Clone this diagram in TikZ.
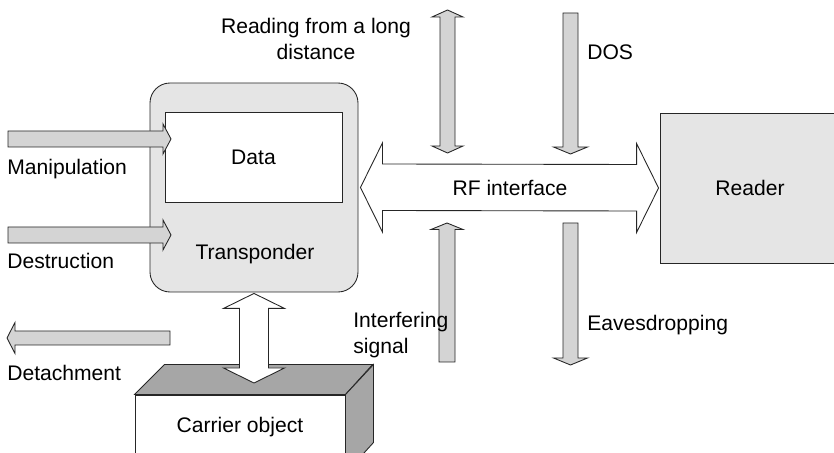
\documentclass[tikz,border=0pt]{standalone}
\usepackage{fontspec}
\setmainfont{Liberation Sans}
\usetikzlibrary{calc}
\tikzset{
  box/.style={draw=black!85, line width=0.5pt, inner sep=0pt},
  blk/.style={draw=black!85, line width=0.5pt, fill=black!17, line join=miter},
  hollow/.style={draw=black!85, line width=0.5pt, fill=white, line join=miter},
  face/.style={draw=black!85, line width=0.5pt, fill=black!35},
  lbl/.style={inner sep=0pt},
}

\begin{document}
\begin{tikzpicture}[x=0.2mm, y=-0.2mm, font=\fontsize{12}{14.8}\selectfont]
\useasboundingbox (0,0) rectangle (834,453);

%% Transponder with data store
\node[box, fill=black!10, rounded corners=4mm, minimum width=41.6mm,
      minimum height=41.8mm] (transponder) at (254,187.5) {};
\node[box, fill=white, minimum width=35.4mm, minimum height=18mm]
  (data) at (253.5,157) {Data};
\node[lbl, anchor=base] (transpLbl) at (255,260) {Transponder};

%% Reader
\node[box, fill=black!10, minimum width=36mm, minimum height=30mm]
  (reader) at (750,188) {Reader};

%% Carrier object (box seen from above)
\node[box, fill=white, minimum width=42mm, minimum height=15.6mm]
  (carrier) at (240,434) {};
\draw[face] (carrier.north west) -- ++(30,-30) -- ++(208,0)
  -- (carrier.north east) -- cycle;
\draw[face] (carrier.north east) -- ++(28,-30) -- ++(0,78)
  -- (carrier.south east) -- cycle;
\node[lbl, anchor=base] (carrierLbl) at (240,433) {Carrier object};

%% Transponder <-> carrier
\coordinate (tcT) at ($(transponder.south)+(0,1)$);
\coordinate (tcB) at (254,383);
\draw[hollow] (tcT) -- ++(30.5,15) -- ++(-16,0) -- ($(tcB)+(14.5,-15)$)
  -- ++(16,0) -- (tcB) -- ++(-30.5,-15) -- ++(16,0) -- ($(tcT)+(-14.5,15)$)
  -- ++(-16,0) -- cycle;

%% RF interface
\coordinate (rfL) at ($(transponder.east)+(2,0)$);
\coordinate (rfR) at ($(reader.west)+(-1,0)$);
\draw[hollow] (rfL) -- ++(22,-44.5) -- ++(0,21) -- ($(rfR)+(-22,-23.5)$)
  -- ++(0,-21) -- (rfR) -- ++(-22,44.5) -- ++(0,-21.5)
  -- ($(rfL)+(22,23)$) -- ++(0,21.5) -- cycle;
\node[lbl, anchor=base] (rfLbl) at (510,196) {RF interface};

%% Attacks on the transponder
\foreach \y in {139,235} {
  \draw[blk] (8,\y-8) -- (163,\y-8) -- (163,\y-15) -- (171,\y)
    -- (163,\y+15) -- (163,\y+8) -- (8,\y+8) -- cycle;
}
\node[lbl, anchor=base west] (manip) at (7,175) {Manipulation};
\node[lbl, anchor=base west] (destr) at (7,269) {Destruction};

\draw[blk] (170,331) -- (15,331) -- (15,322.5) -- (7,338) -- (15,353.5)
  -- (15,345) -- (170,345) -- cycle;
\node[lbl, anchor=base west] (detach) at (7,381) {Detachment};

%% Attacks on the air interface
% reading from a long distance
\draw[blk] (447.5,10) -- (463,17) -- (455,17) -- (455,146) -- (463,146)
  -- (447.5,153) -- (432,146) -- (440,146) -- (440,17) -- (432,17) -- cycle;
\node[lbl, anchor=north, align=center] (readLbl) at (316,18)
  {Reading from a long\\distance};

% DOS and eavesdropping
\foreach \x/\ya/\yb in {570.5/13/154, 570.5/223/365} {
  \draw[blk] (\x-7.5,\ya) -- (\x+7.5,\ya) -- (\x+7.5,\yb-7) -- (\x+17,\yb-7)
    -- (\x,\yb) -- (\x-17,\yb-7) -- (\x-7.5,\yb-7) -- cycle;
}
\node[lbl, anchor=base west] (dos) at (587,60) {DOS};
\node[lbl, anchor=base west] (eaves) at (587,331) {Eavesdropping};

% interfering signal
\draw[blk] (447,223) -- (463,229.5) -- (455,229.5) -- (455,362) -- (439,362)
  -- (439,229.5) -- (431,229.5) -- cycle;
\node[lbl, anchor=north west, align=left] (interf) at (353,312)
  {Interfering\\signal};

\end{tikzpicture}
\end{document}
